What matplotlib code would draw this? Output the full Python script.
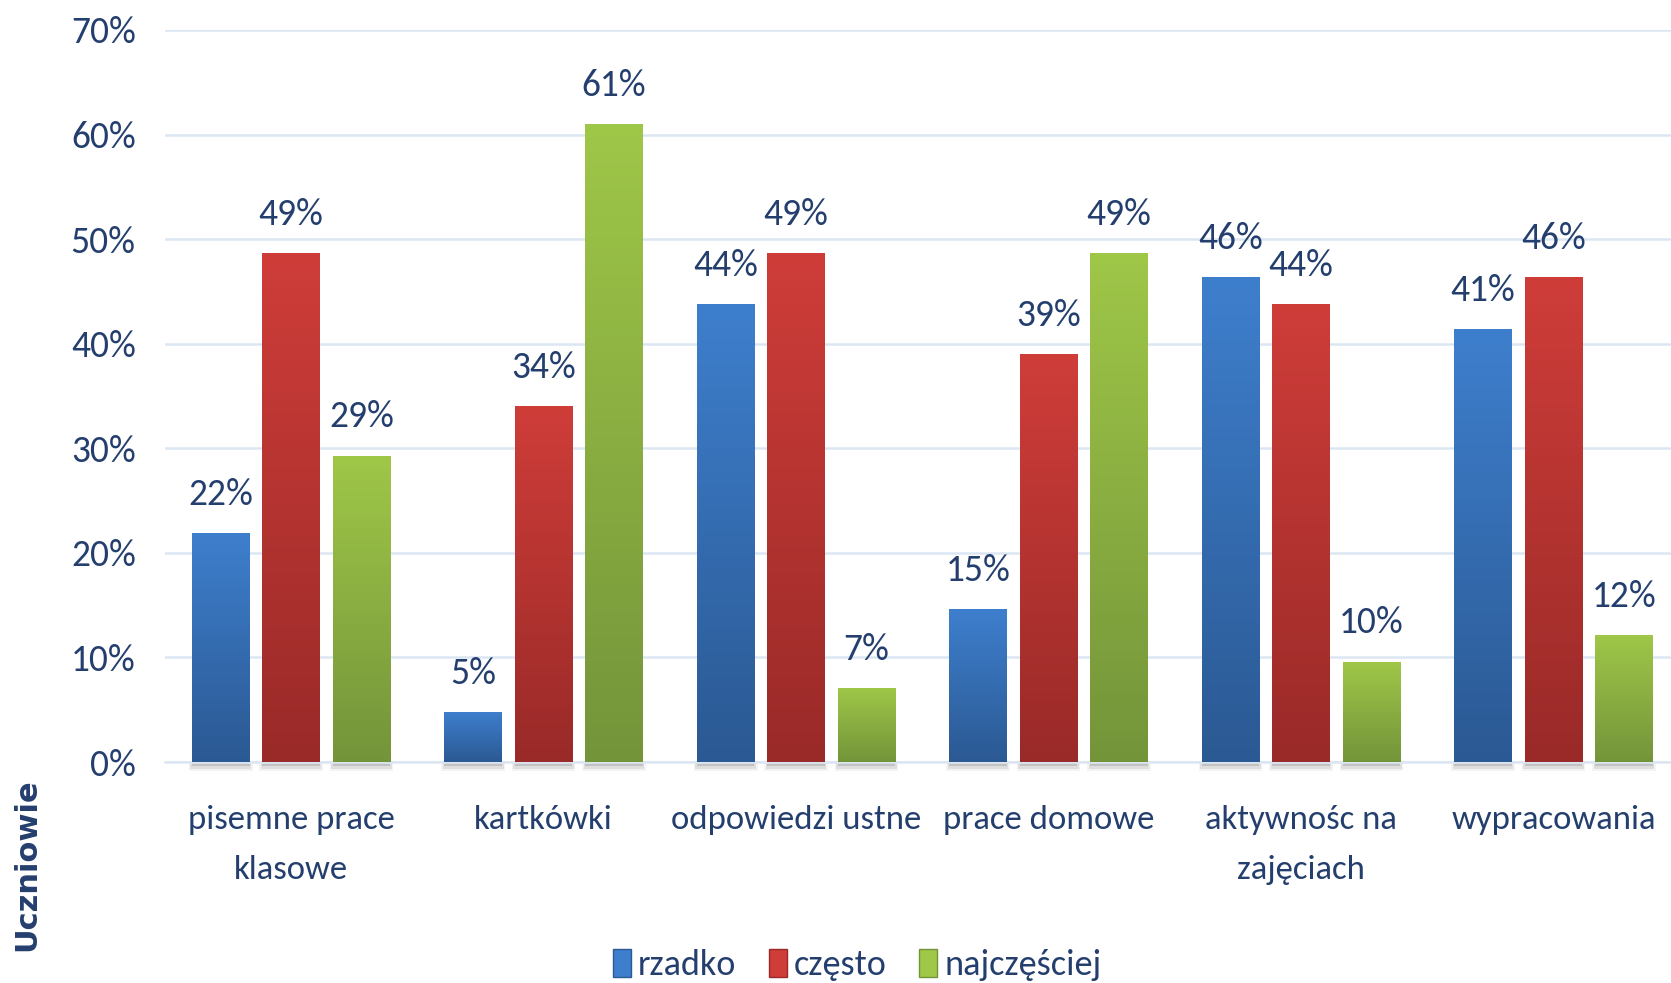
import numpy as np
import matplotlib
matplotlib.use("Agg")
import matplotlib.pyplot as plt
from matplotlib.colors import LinearSegmentedColormap
from matplotlib.patches import Patch
from matplotlib import font_manager as fm

categories = ["pisemne prace\nklasowe", "kartkówki", "odpowiedzi ustne",
              "prace domowe", "aktywnośc na\nzajęciach", "wypracowania"]
series = ["rzadko", "często", "najczęściej"]
rzadko = [21.9, 4.8, 43.8, 14.6, 46.4, 41.4]
czesto = [48.7, 34.0, 48.7, 39.0, 43.8, 46.4]
najczesciej = [29.3, 61.0, 7.1, 48.7, 9.6, 12.1]
yticks = [0, 10, 20, 30, 40, 50, 60, 70]

# gradient colours, top -> bottom
grads = [("#3e7fcd", "#2b5993"), ("#cf3d39", "#992a28"), ("#9fc748", "#74943a")]
text_col = "#243f6e"
installed = {f.name for f in fm.fontManager.ttflist}
fam = [f for f in ["Carlito", "Asap Condensed", "DejaVu Sans"] if f in installed]
fs = 27 if fam[0] == "Carlito" else 25

fig = plt.figure(figsize=(16.71, 9.83), dpi=100)
ax = fig.add_axes([0.0987, 0.2248, 0.9066, 0.7447])

x = np.arange(len(categories))
w = 0.228
step = 0.279
for i, (vals, (top, bot)) in enumerate(zip([rzadko, czesto, najczesciej], grads)):
    xs = x + (i - 1) * step
    cmap = LinearSegmentedColormap.from_list("g%d" % i, [bot, top])
    bars = ax.bar(xs, vals, w, color=top, zorder=3)
    for b, v in zip(bars, vals):
        x0 = b.get_x()
        # shadow under the bar
        for k, a in enumerate([0.2, 0.13, 0.07]):
            ax.bar(x0 + w / 2, -0.4 - 0.25 * k, w + 0.012 * k, bottom=0,
                   color="#555555", alpha=a, zorder=2, clip_on=False, linewidth=0)
        grad = np.linspace(0, 1, 256).reshape(-1, 1)
        im = ax.imshow(grad, cmap=cmap, origin="lower", aspect="auto",
                       extent=[x0, x0 + w, 0, v], zorder=4)
        im.set_clip_path(b)
        ax.annotate("%d%%" % round(v), (x0 + w / 2, v), xytext=(0, 16),
                    textcoords="offset points", ha="center", va="bottom",
                    fontsize=fs, color=text_col, family=fam)

ax.set_xlim(-0.5, 5.5)
ax.set_ylim(0, 70)
ax.set_yticks(yticks)
ax.set_yticklabels(["%d%%" % t for t in yticks], fontsize=fs, color=text_col, family=fam)
ax.set_xticks(x)
ax.set_xticklabels(categories, fontsize=fs - 2, color=text_col, family=fam,
                   linespacing=1.85, va="top")
ax.tick_params(axis="both", length=0)
ax.tick_params(axis="y", pad=21)
ax.tick_params(axis="x", pad=31)
ax.grid(axis="y", color="#dce6f2", linewidth=1.8, zorder=0)
ax.set_axisbelow(True)
for s in ["top", "right", "left"]:
    ax.spines[s].set_visible(False)
ax.spines["bottom"].set_color("#dce6f2")
ax.spines["bottom"].set_linewidth(1.8)

fig.text(0.016, 0.12, "Uczniowie", rotation=90, ha="center", va="center",
         fontsize=22, fontweight="bold", color=text_col, family="DejaVu Sans")

handles = [Patch(facecolor=c[0], edgecolor=c[1]) for c in grads]
fig.legend(handles, series, loc="center", bbox_to_anchor=(0.513, 0.018), ncol=3,
           frameon=False, handlelength=0.5, handleheight=0.8, handletextpad=0.2,
           columnspacing=0.9, prop={"family": fam, "size": fs - 1}, labelcolor=text_col)

fig.savefig("out.png", dpi=100)
